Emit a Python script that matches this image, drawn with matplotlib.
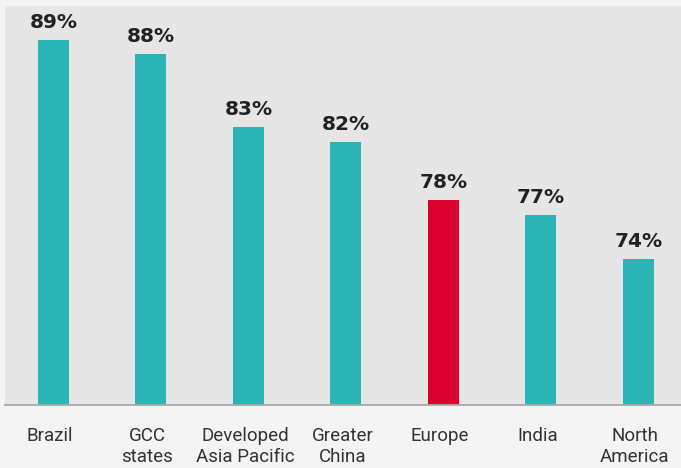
import matplotlib
matplotlib.use("Agg")
import matplotlib.pyplot as plt
from matplotlib.transforms import ScaledTranslation

# Share of respondents by region
categories = ["Brazil", "GCC\nstates", "Developed\nAsia Pacific", "Greater\nChina",
              "Europe", "India", "North\nAmerica"]
values = [89, 88, 83, 82, 78, 77, 74]
highlight = "Europe"

TEAL = "#2cb5b5"
RED = "#dc002e"

fig = plt.figure(figsize=(6.81, 4.68), dpi=100, facecolor="#f4f4f4")
ax = fig.add_axes([5 / 681, 63 / 468, 676 / 681, 399 / 468])
ax.set_facecolor("#e6e6e6")

x = list(range(len(categories)))
colors = [RED if c == highlight else TEAL for c in categories]
ax.bar(x, values, width=0.318, color=colors, bottom=0, zorder=2)

ax.set_ylim(64.0, 91.3)
ax.set_xlim(-0.497, 6.436)

for xi, v in zip(x, values):
    ax.annotate(f"{v}%", (xi, v), xytext=(0, 8.6), textcoords="offset points",
                ha="center", va="baseline", fontsize=14.5, fontweight="bold",
                family="DejaVu Sans", color="#222222")

ax.set_yticks([])
ax.set_xticks(x)
ax.set_xticklabels(categories, family="Roboto", fontsize=13.5, color="#333333",
                   linespacing=1.25)
ax.tick_params(axis="x", length=0, pad=15.5)

# nudge category labels slightly to the left
shift = ScaledTranslation(-3.5 / 100, 0, fig.dpi_scale_trans)
for lbl in ax.get_xticklabels():
    lbl.set_transform(lbl.get_transform() + shift)

for side in ("left", "right", "top"):
    ax.spines[side].set_visible(False)
ax.spines["bottom"].set_color("#a9a9a9")
ax.spines["bottom"].set_linewidth(1.3)

fig.savefig("out.png", dpi=100, facecolor=fig.get_facecolor())
